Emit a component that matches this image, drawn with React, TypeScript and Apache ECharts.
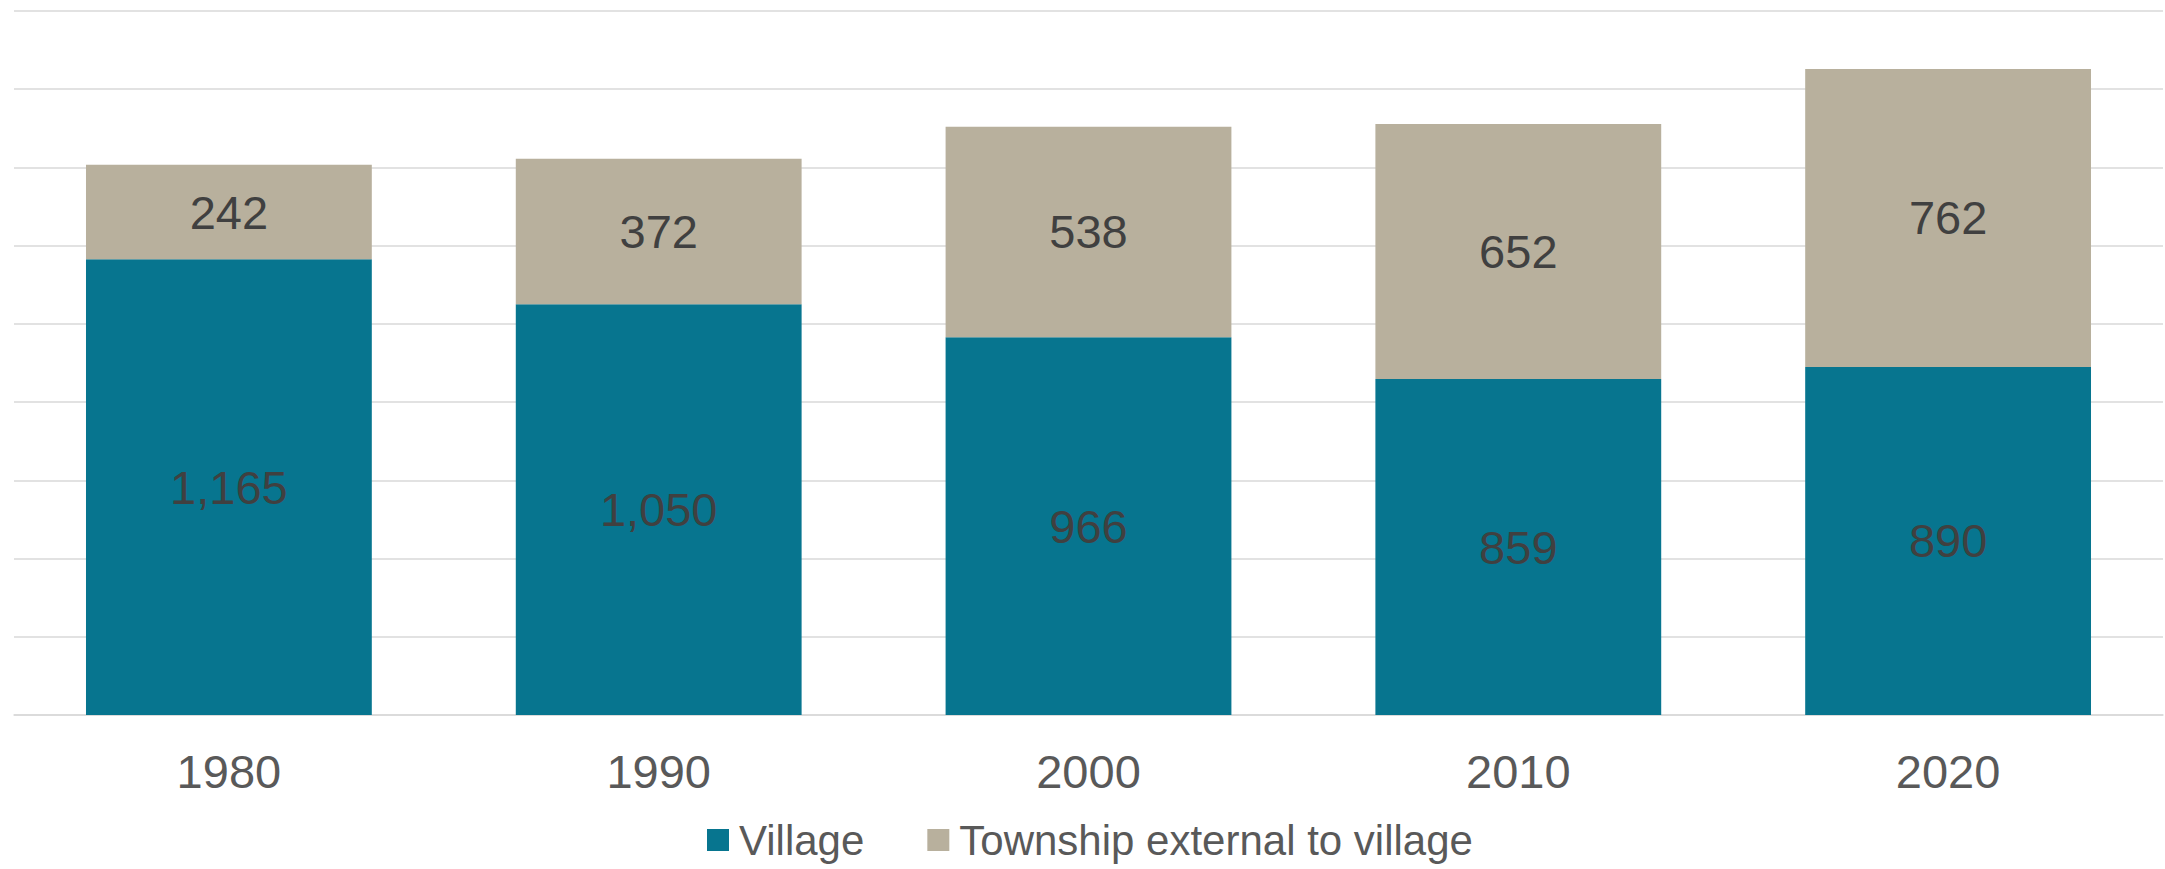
import React, { useEffect, useRef } from "react";
import * as echarts from "echarts";

const categories = ["1980", "1990", "2000", "2010", "2020"];
const villageValues = [1165, 1050, 966, 859, 890];
const townshipValues = [242, 372, 538, 652, 762];
const seriesNames = ["Village", "Township external to village"];

const FONT = "'Liberation Sans', Arial, sans-serif";

export default function App() {
  const ref = useRef<HTMLDivElement>(null);

  useEffect(() => {
    if (!ref.current) return;
    const chart = echarts.init(ref.current, null, { renderer: "svg" });
    const labelFmt = (p: any) => Number(p.value).toLocaleString("en-US");
    chart.setOption({
      animation: false,
      backgroundColor: "#ffffff",
      textStyle: { fontFamily: FONT },
      grid: { left: 14, right: 2, top: 11, bottom: 154, containLabel: false },
      legend: {
        data: seriesNames,
        left: 707,
        top: 819,
        padding: 0,
        icon: "rect",
        itemWidth: 22,
        itemHeight: 22,
        itemGap: 63,
        textStyle: {
          fontFamily: FONT,
          fontSize: 42,
          lineHeight: 42,
          color: "#595959",
          padding: [0, 0, 0, 5],
        },
      },
      xAxis: {
        type: "category",
        data: categories,
        axisLine: { show: true, lineStyle: { color: "#D9D9D9", width: 1.5 } },
        axisTick: { show: false },
        axisLabel: {
          fontFamily: FONT,
          fontSize: 47,
          color: "#595959",
          margin: 33,
        },
      },
      yAxis: {
        type: "value",
        min: 0,
        max: 1800,
        interval: 200,
        axisLine: { show: false },
        axisTick: { show: false },
        axisLabel: { show: false },
        splitLine: { show: true, lineStyle: { color: "#D9D9D9", width: 1.5 } },
      },
      series: [
        {
          name: seriesNames[0],
          type: "bar",
          stack: "total",
          data: villageValues,
          barCategoryGap: "33.5%",
          itemStyle: { color: "#07758F" },
          label: {
            show: true,
            position: "inside",
            formatter: labelFmt,
            fontFamily: FONT,
            fontSize: 47,
            color: "#404040",
          },
        },
        {
          name: seriesNames[1],
          type: "bar",
          stack: "total",
          data: townshipValues,
          barCategoryGap: "33.5%",
          itemStyle: { color: "#B8B09D" },
          label: {
            show: true,
            position: "inside",
            formatter: labelFmt,
            fontFamily: FONT,
            fontSize: 47,
            color: "#404040",
          },
        },
      ],
    });
    return () => chart.dispose();
  }, []);

  return (
    <div
      ref={ref}
      style={{ position: "fixed", left: 0, top: 0, width: 2165, height: 869 }}
    />
  );
}
